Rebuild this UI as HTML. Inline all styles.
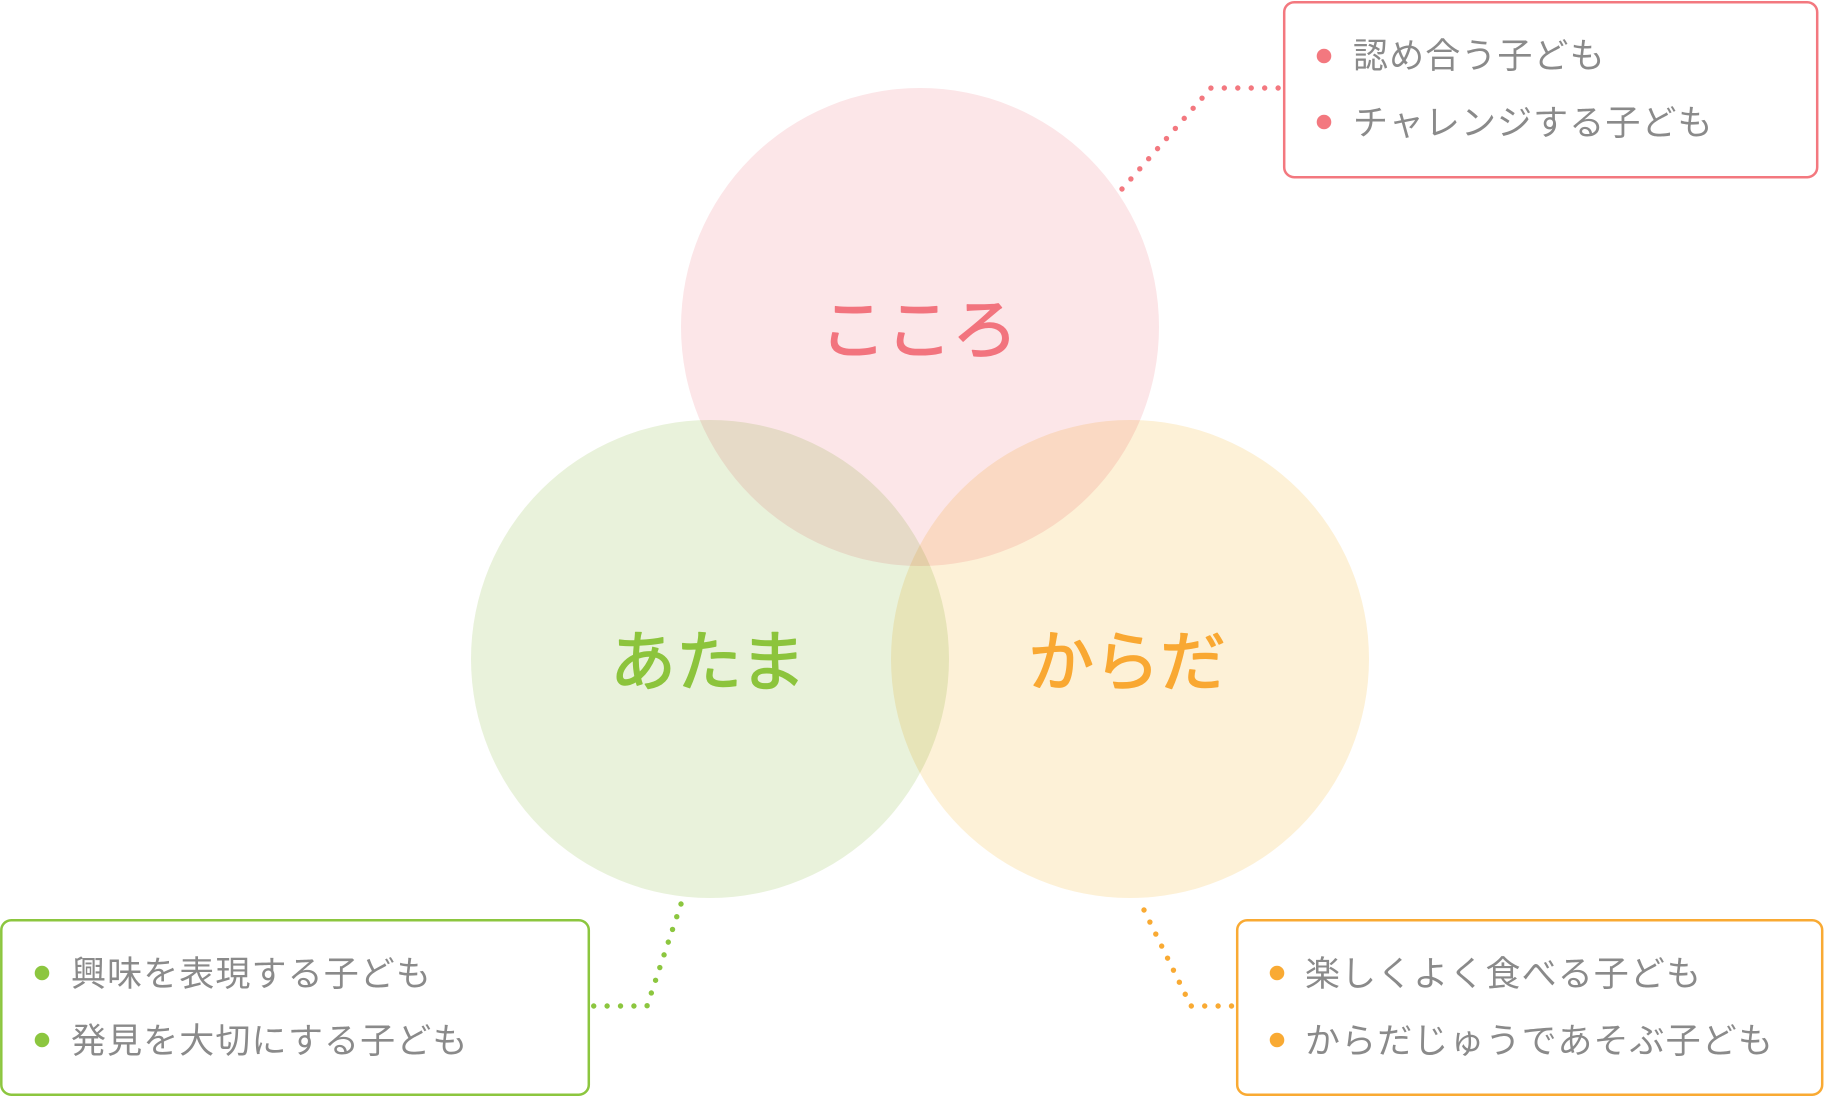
<!DOCTYPE html>
<html>
<head>
<meta charset="utf-8">
<style>
html,body{margin:0;padding:0;background:#fff;}
body{width:1826px;height:1098px;overflow:hidden;}
svg{display:block;}
.lbl{font-family:"Liberation Sans","Noto Sans CJK JP",sans-serif;font-size:66px;font-weight:400;text-anchor:middle;}
.item{font-family:"Liberation Sans","Noto Sans CJK JP",sans-serif;font-size:35px;fill:#8a8a8a;letter-spacing:1.1px;}
.c{mix-blend-mode:multiply;}
</style>
</head>
<body>
<svg width="1826" height="1098" viewBox="0 0 1826 1098" xmlns="http://www.w3.org/2000/svg">
  <g style="isolation:isolate">
    <circle class="c" cx="920" cy="327" r="239" fill="#fce6e8"/>
    <circle class="c" cx="710" cy="659" r="239" fill="#e9f2db"/>
    <circle class="c" cx="1130" cy="659" r="239" fill="#fdf1d7"/>
  </g>

  <!-- circle labels -->
  <text class="lbl" x="919" y="353" fill="#f2747e" stroke="#f2747e" stroke-width="1.4" stroke-linejoin="round">こころ</text>
  <text class="lbl" x="708" y="685" fill="#8cc43c" stroke="#8cc43c" stroke-width="1.4" stroke-linejoin="round">あたま</text>
  <text class="lbl" x="1127" y="685" fill="#f9a832" stroke="#f9a832" stroke-width="1.4" stroke-linejoin="round">からだ</text>

  <!-- dotted connectors -->
  <path d="M1122,189 L1211,88 L1279,88" fill="none" stroke="#f3787f" stroke-width="5.4" stroke-linecap="round" stroke-dasharray="0 13.45"/>
  <path d="M681,904 L647,1006 L593,1006" fill="none" stroke="#8cc63f" stroke-width="5.4" stroke-linecap="round" stroke-dasharray="0 13.4"/>
  <path d="M1144,910 L1191,1006 L1232,1006" fill="none" stroke="#f9aa33" stroke-width="5.4" stroke-linecap="round" stroke-dasharray="0 13.4"/>

  <!-- pink box -->
  <rect x="1284.2" y="2.2" width="533" height="175" rx="10" ry="10" fill="#fff" stroke="#f3787f" stroke-width="2.5"/>
  <circle cx="1324" cy="56" r="7.3" fill="#f3787f"/>
  <circle cx="1324" cy="122" r="7.3" fill="#f3787f"/>
  <text class="item" x="1353" y="68">認め合う子ども</text>
  <text class="item" x="1353" y="135">チャレンジする子ども</text>

  <!-- green box -->
  <rect x="1.3" y="920.2" width="587.5" height="174.5" rx="10" ry="10" fill="#fff" stroke="#8cc63f" stroke-width="2.5"/>
  <circle cx="42" cy="973" r="7.3" fill="#8cc63f"/>
  <circle cx="42" cy="1040" r="7.3" fill="#8cc63f"/>
  <text class="item" x="71" y="986">興味を表現する子ども</text>
  <text class="item" x="71" y="1053">発見を大切にする子ども</text>

  <!-- orange box -->
  <rect x="1237.2" y="920.2" width="585" height="174.5" rx="10" ry="10" fill="#fff" stroke="#f9aa33" stroke-width="2.5"/>
  <circle cx="1277" cy="973" r="7.3" fill="#f9aa33"/>
  <circle cx="1277" cy="1040" r="7.3" fill="#f9aa33"/>
  <text class="item" x="1305" y="986">楽しくよく食べる子ども</text>
  <text class="item" x="1305" y="1053">からだじゅうであそぶ子ども</text>
</svg>
</body>
</html>
